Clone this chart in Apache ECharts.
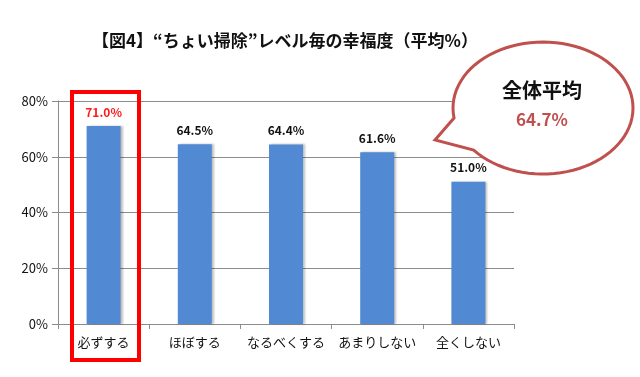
<!DOCTYPE html>
<html>
<head>
<meta charset="UTF-8">
<script src="https://cdn.jsdelivr.net/npm/echarts@6/dist/echarts.min.js"></script>
<style>
  html, body { margin: 0; padding: 0; background: #fff; }
  #container { width: 640px; height: 377px; }
</style>
</head>
<body>
<div id="container"></div>
<script>
// 掃除の頻度カテゴリ
let categories = ['必ずする', 'ほぼする', 'なるべくする', 'あまりしない', '全くしない'];
// 幸福度（平均%）
let happiness = [71.0, 64.5, 64.4, 61.6, 51.0];
let yTicks = [0, 20, 40, 60, 80];
let overallAvg = 64.7;

let font = '"Noto Sans CJK JP", "Noto Sans", sans-serif';

let dom = document.getElementById('container');
let myChart = echarts.init(dom);

let barData = happiness.map(function (v, i) {
    let item = { value: v };
    if (i === 0) {
        // 強調表示（赤ラベル）
        item.label = { color: '#ff1a1a' };
    }
    return item;
});

// 吹き出しの輪郭（楕円＋しっぽ）
function bubblePoints(cx, cy, rx, ry, tStart, tEnd, tip) {
    let pts = [];
    let n = 80;
    for (let i = 0; i <= n; i++) {
        let t = tStart + (tEnd - tStart) * i / n;
        pts.push([cx + rx * Math.cos(t), cy + ry * Math.sin(t)]);
    }
    pts.push(tip);
    return pts;
}
let bubble = bubblePoints(543, 108, 90, 66, 2.45, 2.99 - 2 * Math.PI, [435, 140]);

let option = {
    backgroundColor: '#fff',
    animation: false,
    title: {
        text: '【図4】“ちょい掃除”レベル毎の幸福度（平均%）',
        left: 280,
        top: 27,
        textAlign: 'center',
        textStyle: { fontFamily: font, fontSize: 17, fontWeight: 'bold', color: '#111' }
    },
    grid: { left: 58, right: 126, top: 101, bottom: 53 },
    xAxis: {
        type: 'category',
        data: categories,
        axisLine: { lineStyle: { color: '#8c8c8c', width: 1 } },
        axisTick: { show: true, interval: 0, alignWithLabel: false, length: 5, lineStyle: { color: '#8c8c8c' } },
        axisLabel: { interval: 0, color: '#111', fontFamily: font, fontSize: 13, margin: 12 }
    },
    yAxis: {
        type: 'value',
        min: yTicks[0],
        max: yTicks[yTicks.length - 1],
        interval: 20,
        axisLine: { show: true, lineStyle: { color: '#8c8c8c' } },
        axisTick: { show: true, length: 6, inside: false, lineStyle: { color: '#8c8c8c' } },
        splitLine: { lineStyle: { color: '#8c8c8c', width: 1 } },
        axisLabel: {
            color: '#111', fontFamily: font, fontSize: 13, margin: 10,
            formatter: function (v) { return v + '%'; }
        }
    },
    series: [{
        type: 'bar',
        data: barData,
        barWidth: 34,
        itemStyle: {
            color: '#5189d3',
            shadowColor: 'rgba(0,0,0,0.25)',
            shadowOffsetX: 2,
            shadowOffsetY: 0,
            shadowBlur: 2
        },
        label: {
            show: true,
            position: 'top',
            distance: 8,
            color: '#111',
            fontFamily: font,
            fontSize: 12,
            fontWeight: 'bold',
            formatter: function (p) { return p.value.toFixed(1) + '%'; }
        }
    }],
    graphic: [
        {
            // 「必ずする」を囲む赤枠
            type: 'rect',
            shape: { x: 72, y: 92, width: 67, height: 268 },
            style: { fill: 'none', stroke: '#ff0000', lineWidth: 4 },
            z: 100
        },
        {
            // 吹き出し
            type: 'polygon',
            shape: { points: bubble },
            style: { fill: '#fff', stroke: '#c0504d', lineWidth: 3, lineJoin: 'miter' },
            z: 100
        },
        {
            type: 'text',
            x: 542,
            y: 90,
            style: {
                text: '全体平均',
                fill: '#111',
                font: 'bold 20px ' + font,
                textAlign: 'center',
                textVerticalAlign: 'middle'
            },
            z: 101
        },
        {
            type: 'text',
            x: 542,
            y: 120,
            style: {
                text: overallAvg.toFixed(1) + '%',
                fill: '#c0504d',
                font: 'bold 17px ' + font,
                textAlign: 'center',
                textVerticalAlign: 'middle'
            },
            z: 101
        }
    ]
};

myChart.setOption(option, true);
</script>
</body>
</html>
